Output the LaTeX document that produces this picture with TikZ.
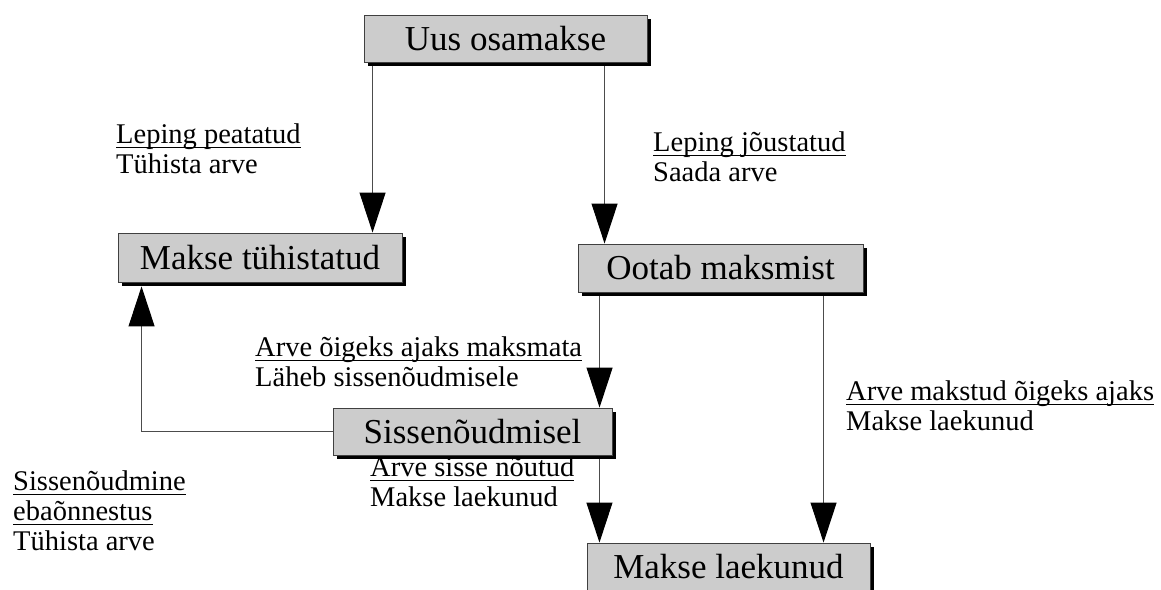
\documentclass[tikz,border=0pt]{standalone}
\usepackage{fontspec}
\setmainfont{Liberation Serif}
\usetikzlibrary{arrows.meta,shadows,backgrounds}
% underline at a fixed depth, crossing the descenders
\newcommand\undl[1]{\setbox0\hbox{#1}\rlap{\rule[-5pt]{\wd0}{1.3pt}}\box0}

\begin{document}
\begin{tikzpicture}[x=1pt,y=-1pt,
  state/.style={draw=black!75, line width=0.9pt, fill=black!20,
    minimum width=#1, minimum height=47pt, inner sep=0pt,
    font=\fontsize{35}{40}\selectfont,
    drop shadow={shadow xshift=4pt, shadow yshift=-4pt, fill=black, opacity=1}},
  lab/.style={anchor=base west, align=left, inner sep=0pt,
    font=\fontsize{28.5}{30}\selectfont},
  flow/.style={draw=black!70, line width=1pt,
    -{Triangle[width=26pt,length=40pt,color=black]}}]

\useasboundingbox (0,0) rectangle (1161,589);
\clip (0,0) rectangle (1161,589);

% states
\node[state=283pt] (A) at (505.5,38.5) {Uus osamakse};
\node[state=284pt, minimum height=49pt] (B) at (260,257.5) {Makse tühistatud};
\node[state=285pt, minimum height=48pt] (C) at (720.5,268) {Ootab maksmist};
\node[state=279pt] (D) at (472.5,431.5) {Sissenõudmisel};
\node[state=283pt] (E) at (728.5,566.5) {Makse laekunud};

% transitions, behind the boxes
\begin{pgfonlayer}{background}
\fill[white] (0,0) rectangle (1161,589);
\draw[flow] ([xshift=9pt]A.south west) -- ([xshift=9pt]A.south west |- B.north);
\draw[flow] ([xshift=241pt]A.south west) -- ([xshift=241pt]A.south west |- C.north);
\draw[flow] ([xshift=22pt]C.south west) -- ([xshift=22pt]C.south west |- D.north);
\draw[flow] ([xshift=246pt]C.south west) -- ([xshift=246pt]C.south west |- E.north);
\draw[flow] ([xshift=-13pt]D.south east) -- ([xshift=-13pt]D.south east |- E.north);
\draw[flow] (D.west) -| ([xshift=24pt,yshift=-4pt]B.south west);
\end{pgfonlayer}

% transition labels (placed at the baseline of their last line)
\node[lab] (l1) at (116,173) {\undl{Leping peatatud}\\Tühista arve};
\node[lab] (l2) at (653,181) {\undl{Leping jõustatud}\\Saada arve};
\node[lab] (l3) at (255,386) {\undl{Arve õigeks ajaks maksmata}\\Läheb sissenõudmisele};
\node[lab] (l4) at (846,430) {\undl{Arve makstud õigeks ajaks}\\Makse laekunud};
\node[lab] (l5) at (13,550) {\undl{Sissenõudmine}\\\undl{ebaõnnestus}\\Tühista arve};
\node[lab] (l6) at (370,506) {\undl{Arve sisse nõutud}\\Makse laekunud};
\end{tikzpicture}
\end{document}
